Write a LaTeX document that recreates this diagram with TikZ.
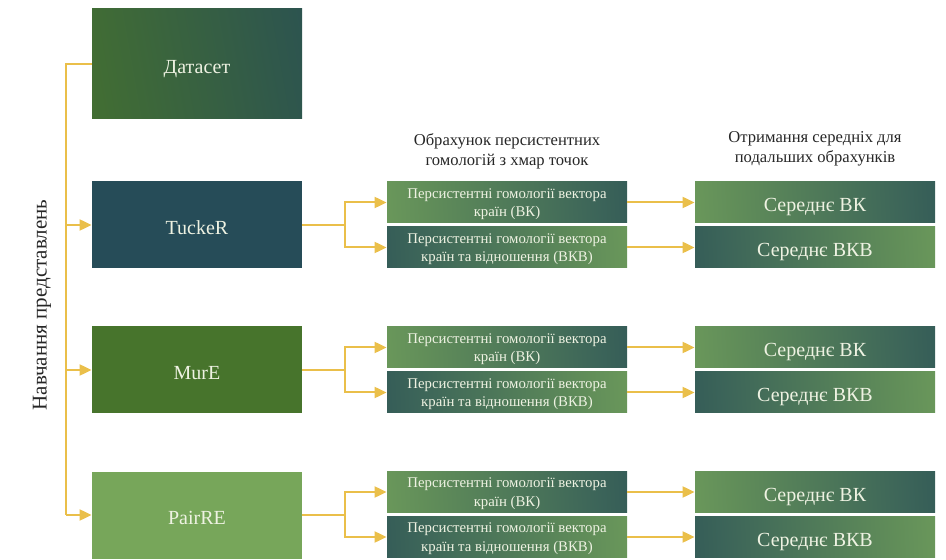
\documentclass[tikz,border=0pt]{standalone}
\usepackage{fontspec}
\setmainfont{Liberation Serif}
\usetikzlibrary{arrows.meta}

\definecolor{kteal}{HTML}{264C58}
\definecolor{kgreen}{HTML}{47742C}
\definecolor{klight}{HTML}{77A65A}
\definecolor{kgold}{HTML}{EABF4A}
\definecolor{kcream}{HTML}{EEF2E2}

\pgfdeclarehorizontalshading{dataset shade}{100bp}{color(0bp)=(kgreen); color(8bp)=(kgreen); color(92bp)=(kteal!95!kgreen); color(100bp)=(kteal)}
\pgfdeclarehorizontalshading{light dark}{100bp}{color(0bp)=(klight); color(10bp)=(klight); color(92bp)=(kteal); color(100bp)=(kteal)}
\pgfdeclarehorizontalshading{dark light}{100bp}{color(0bp)=(kteal); color(8bp)=(kteal); color(90bp)=(klight); color(100bp)=(klight)}

\tikzset{
	model/.style={minimum width=105pt,minimum height=43.5pt,inner sep=0pt,text=kcream,text height=9.6pt,text depth=0pt,font=\fontsize{10}{12}\selectfont},
	phbox/.style={minimum width=120pt,minimum height=20.5pt,inner sep=0pt,align=center,text=kcream,text depth=-1.6pt,font=\fontsize{7.4}{9.2}\selectfont},
	meanbox/.style={minimum width=120pt,minimum height=20.5pt,inner sep=0pt,text=kcream,text height=9.1pt,text depth=0pt,font=\fontsize{10}{12}\selectfont},
	lightdark/.style={shading=light dark,shading angle=3},
	darklight/.style={shading=dark light,shading angle=3},
	heading/.style={align=center,text=black!85,font=\fontsize{8.3}{10}\selectfont},
	conn/.style={draw=kgold,line width=1pt},
	arr/.style={conn,-{Triangle[length=6pt,width=5.5pt]}}
}

\begin{document}
\begin{tikzpicture}[x=0.5pt,y=-0.5pt]
	\useasboundingbox (0,0) rectangle (946,560);
	\node[model,minimum height=55pt,shading=dataset shade,shading angle=10] (data) at (197,64) {Датасет};
	\node[model,fill=kteal] (tucker) at (197,225) {TuckeR};
	\node[model,fill=kgreen] (mure) at (197,370) {MurE};
	\node[model,fill=klight] (pairre) at (197,515) {PairRE};
	\node[rotate=90,font=\fontsize{10.5}{12}\selectfont,text=black!85] (learn) at (42,305) {Навчання представлень};
	\node[heading] (head ph) at (507,151) {Обрахунок персистентних\\гомологій з хмар точок};
	\node[heading] (head mean) at (815,149) {Отримання середніх для\\подальших обрахунків};

	\node[phbox,lightdark] (ph t1) at (507,202.5) {Персистентні гомології вектора\\країн (ВК)};
	\node[phbox,darklight] (ph t2) at (507,247.5) {Персистентні гомології вектора\\країн та відношення (ВКВ)};
	\node[phbox,lightdark] (ph m1) at (507,347.5) {Персистентні гомології вектора\\країн (ВК)};
	\node[phbox,darklight] (ph m2) at (507,392.5) {Персистентні гомології вектора\\країн та відношення (ВКВ)};
	\node[phbox,lightdark] (ph p1) at (507,492) {Персистентні гомології вектора\\країн (ВК)};
	\node[phbox,darklight] (ph p2) at (507,537) {Персистентні гомології вектора\\країн та відношення (ВКВ)};

	\node[meanbox,lightdark] (mean t1) at (815,202.5) {Середнє ВК};
	\node[meanbox,darklight] (mean t2) at (815,247.5) {Середнє ВКВ};
	\node[meanbox,lightdark] (mean m1) at (815,347.5) {Середнє ВК};
	\node[meanbox,darklight] (mean m2) at (815,392.5) {Середнє ВКВ};
	\node[meanbox,lightdark] (mean p1) at (815,492) {Середнє ВК};
	\node[meanbox,darklight] (mean p2) at (815,537) {Середнє ВКВ};

	\coordinate (spine top) at (66,64);
	\coordinate (spine bot) at (66,515);
	\coordinate (fork t) at (345,225);
	\coordinate (fork m) at (345,370);
	\coordinate (fork p) at (345,515);

	\draw[conn] (data.west) -- (spine top) -- (spine bot);
	\draw[arr] (spine top |- tucker.west) -- (tucker.west);
	\draw[arr] (spine top |- mure.west) -- (mure.west);
	\draw[arr] (spine bot) -- (pairre.west);

	\draw[conn] (tucker.east) -- (fork t);
	\draw[arr] (fork t) |- (ph t1.west);
	\draw[arr] (fork t) |- (ph t2.west);
	\draw[conn] (mure.east) -- (fork m);
	\draw[arr] (fork m) |- (ph m1.west);
	\draw[arr] (fork m) |- (ph m2.west);
	\draw[conn] (pairre.east) -- (fork p);
	\draw[arr] (fork p) |- (ph p1.west);
	\draw[arr] (fork p) |- (ph p2.west);

	\draw[arr] (ph t1) -- (mean t1);
	\draw[arr] (ph t2) -- (mean t2);
	\draw[arr] (ph m1) -- (mean m1);
	\draw[arr] (ph m2) -- (mean m2);
	\draw[arr] (ph p1) -- (mean p1);
	\draw[arr] (ph p2) -- (mean p2);
\end{tikzpicture}
\end{document}
